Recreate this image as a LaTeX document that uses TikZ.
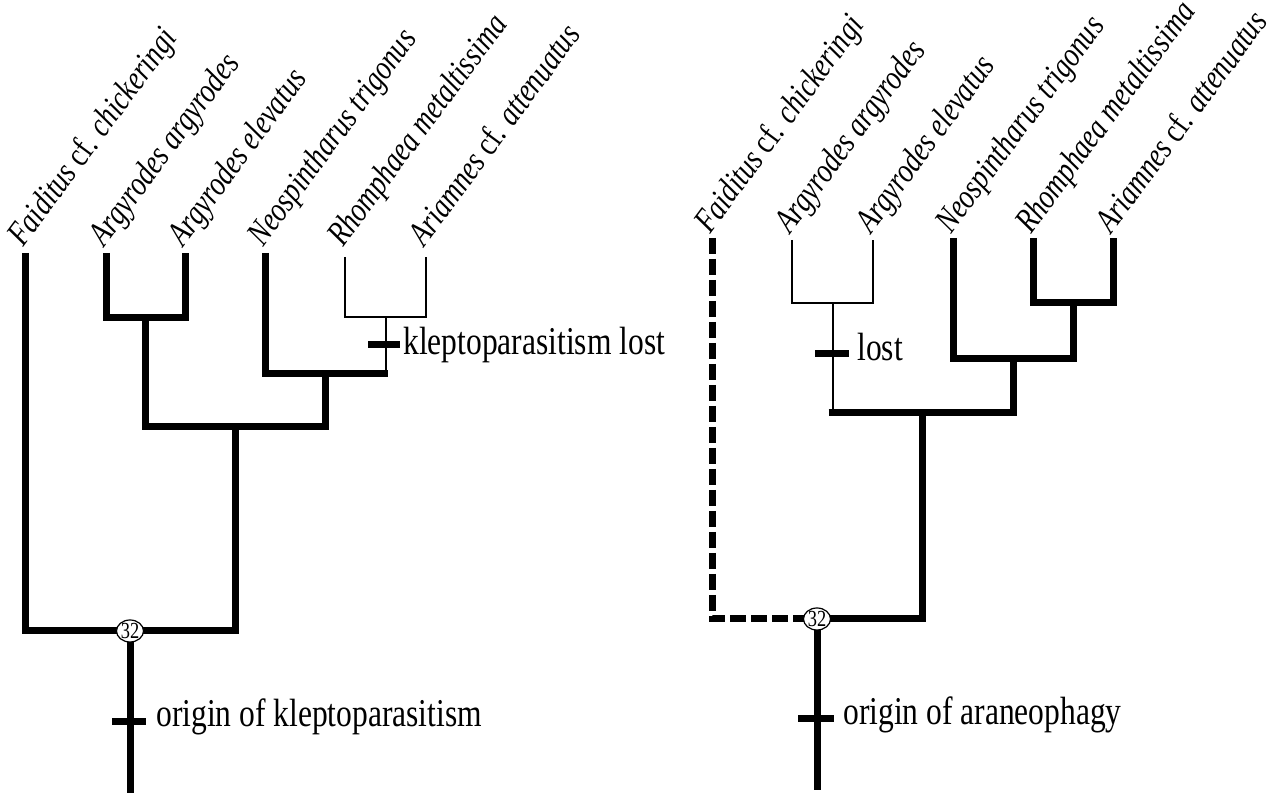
\documentclass[tikz,border=0pt]{standalone}
\usepackage{fontspec}
\setmainfont{Liberation Serif}[FakeStretch=0.8]
\usetikzlibrary{shapes.geometric,calc}
\begin{document}
\begin{tikzpicture}[x=0.5pt,y=-0.5pt,
  thickbr/.style={line width=3.5pt, line join=miter},
  thinbr/.style={line width=1pt, line join=miter},
  dashbr/.style={line width=3.5pt, line join=miter, dash pattern=on 8pt off 2.5pt},
  tickmark/.style={line width=3.5pt},
  taxon/.style={rotate=53.5, anchor=base west, inner sep=0pt, font=\fontsize{17.2}{20}\selectfont\itshape},
  lbl/.style={anchor=base west, inner sep=0pt, font=\fontsize{19.7}{22}\selectfont},
  support/.style={ellipse, draw, line width=0.6pt, fill=white, inner sep=0pt, minimum width=13.5pt, minimum height=11pt, font=\fontsize{11.5}{12}\selectfont}]
\useasboundingbox (0,0) rectangle (1271,795);

% ---------------- left tree ----------------
\coordinate (LF) at (25.5,253);
\coordinate (LA1) at (106,253);
\coordinate (LA2) at (185,253);
\coordinate (LN) at (265,253);
\coordinate (LR) at (345,257);
\coordinate (LAr) at (426,257);
\coordinate (LnA) at (145.5,318);
\coordinate (LnRA) at (385.5,317);
\coordinate (LnRAb) at (385.5,374);
\coordinate (LnRAe) at (388,374);
\coordinate (LnNRA) at (325,374);
\coordinate (LnAN) at (235,427);
\coordinate (Lroot) at (130,631);
\coordinate (LrootEnd) at (130,793);
\coordinate (Llost) at (385.5,345);
\coordinate (Lorig) at (130,722);

\draw[thinbr] (LR) |- (LnRA) -| (LAr);
\draw[thinbr] (LnRA) -- (LnRAb);
\draw[thickbr] (LN) |- (LnRAe);
\draw[thickbr] (LA1) |- (LnA) -| (LA2);
\draw[thickbr] (LnA) |- (LnAN) -| (LnNRA);
\draw[thickbr] (LF) |- (Lroot) -| (LnAN);
\draw[thickbr] (Lroot) -- (LrootEnd);
\draw[tickmark] ([xshift=-8.75pt]Llost) -- ([xshift=7.25pt]Llost);
\draw[tickmark] ([xshift=-9pt]Lorig) -- ([xshift=8pt]Lorig);
\node[support] (Ls) at (Lroot) {32};

\node[taxon] (tLF) at ($(LF)+(-2,-5)$) {Faiditus \textup{cf.} chickeringi};
\node[taxon] (tLA1) at ($(LA1)+(-2,-5)$) {Argyrodes argyrodes};
\node[taxon] (tLA2) at ($(LA2)+(-2,-5)$) {Argyrodes elevatus};
\node[taxon] (tLN) at ($(LN)+(-2,-5)$) {Neospintharus trigonus};
\node[taxon] (tLR) at ($(LR)+(-2,-9)$) {Rhomphaea metaltissima};
\node[taxon] (tLAr) at ($(LAr)+(-2,-9)$) {Ariamnes \textup{cf.} attenuatus};

\node[lbl] (lLlost) at (403,355) {kleptoparasitism lost};
\node[lbl] (lLorig) at (156,727) {origin of kleptoparasitism};

% ---------------- right tree ----------------
\coordinate (RF) at (712,238);
\coordinate (RA1) at (792,240);
\coordinate (RA2) at (873,240);
\coordinate (RN) at (953,238);
\coordinate (RR) at (1033,238);
\coordinate (RAr) at (1113,238);
\coordinate (RnA) at (832.5,303);
\coordinate (RnAb) at (832.5,413);
\coordinate (RnAs) at (828.5,413);
\coordinate (RnRA) at (1073,303);
\coordinate (RnNRA) at (1013,359);
\coordinate (RnAN) at (922.75,413);
\coordinate (Rroot) at (817,619);
\coordinate (RrootEnd) at (817,790);
\coordinate (Rlost) at (832.5,354);
\coordinate (Rorig) at (817,719);

\draw[thinbr] (RA1) |- (RnA) -| (RA2);
\draw[thinbr] (RnA) -- (RnAb);
\draw[thickbr] (RR) |- (RnRA) -| (RAr);
\draw[thickbr] (RN) |- (RnNRA) -| (RnRA);
\draw[thickbr] (RnAs) -| (RnNRA);
\draw[thickbr] (RnAN) |- (Rroot);
\draw[dashbr] (RF) |- (Rroot);
\draw[thickbr] (Rroot) -- (RrootEnd);
\draw[tickmark] ([xshift=-8.75pt]Rlost) -- ([xshift=8.25pt]Rlost);
\draw[tickmark] ([xshift=-9.5pt]Rorig) -- ([xshift=8.5pt]Rorig);
\node[support] (Rs) at (Rroot) {32};

\node[taxon] (tRF) at ($(RF)+(-2,-3)$) {Faiditus \textup{cf.} chickeringi};
\node[taxon] (tRA1) at ($(RA1)+(-2,-5)$) {Argyrodes argyrodes};
\node[taxon] (tRA2) at ($(RA2)+(-2,-5)$) {Argyrodes elevatus};
\node[taxon] (tRN) at ($(RN)+(-2,-3)$) {Neospintharus trigonus};
\node[taxon] (tRR) at ($(RR)+(-2,-3)$) {Rhomphaea metaltissima};
\node[taxon] (tRAr) at ($(RAr)+(-2,-3)$) {Ariamnes \textup{cf.} attenuatus};

\node[lbl] (lRlost) at (857,361) {lost};
\node[lbl] (lRorig) at (843,725) {origin of araneophagy};
\end{tikzpicture}
\end{document}
